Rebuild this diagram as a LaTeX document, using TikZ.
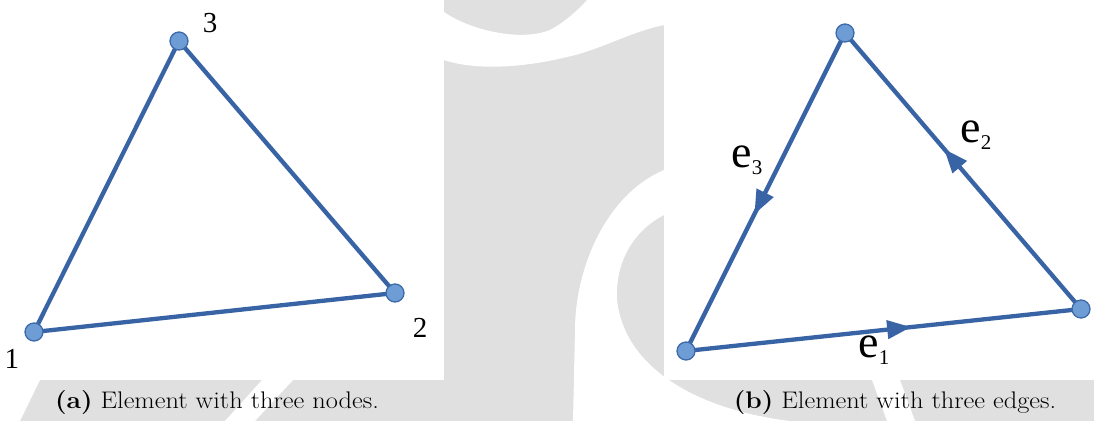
\documentclass[tikz,border=0pt]{standalone}
\usepackage{fontspec}
\newfontfamily\tnr{Liberation Serif}
\usetikzlibrary{arrows.meta,decorations.markings}
\definecolor{wm}{RGB}{224,224,224}
\definecolor{edgeblue}{RGB}{56,100,166}
\definecolor{vfill}{RGB}{109,157,212}
\definecolor{vdraw}{RGB}{62,106,170}
\tikzset{
  edge/.style={draw=edgeblue, line width=4.3pt},
  vtx/.style={circle, fill=vfill, draw=vdraw, line width=1.3pt, minimum size=18pt, inner sep=0pt},
  numlab/.style={font=\tnr\fontsize{29}{29}\selectfont, inner sep=0pt},
  elab/.style={inner sep=0pt},
  captext/.style={font=\fontsize{24}{28}\selectfont, inner sep=0pt},
  midarrow/.style={postaction={decorate}, decoration={markings,
     mark=at position #1 with {\arrow{Triangle[length=24pt,width=18pt]}}}},
}
\newcommand{\elabel}[1]{{\tnr\fontsize{46}{46}\selectfont e\raisebox{-7pt}{\fontsize{21}{21}\selectfont #1}}}
\begin{document}
\begin{tikzpicture}[x=1pt,y=-1pt]
\useasboundingbox (0,0) rectangle (1094,421);
% watermark background
\fill[wm] (0,0) rectangle (1094,421);
\fill[white] (587,0) -- (664,0) -- (664,25) .. controls (630,32) and (600,50) .. (567,57) .. controls (530,66) and (480,72) .. (444,60) -- (444,12) .. controls (470,30) and (520,42) .. (550,30) .. controls (565,22) and (578,10) .. (587,0) -- cycle;
\fill[white] (664,170) .. controls (605,195) and (575,270) .. (575,330) -- (573,421) -- (790,421) .. controls (700,410) and (625,370) .. (617,300) .. controls (615,260) and (635,230) .. (664,215) -- cycle;
\fill[white] (0,380) -- (40,380) -- (20,421) -- (0,421) -- cycle;
\fill[white] (262,380) -- (293,380) -- (255,421) -- (225,421) -- cycle;
\fill[white] (872,380) -- (900,380) -- (915,421) -- (887,421) -- cycle;
% panels
\fill[white] (0,0) rectangle (444,380);
\fill[white] (664,0) rectangle (1094,380);
% panel (a)
\coordinate (p1) at (34,332);
\coordinate (p2) at (395,293);
\coordinate (p3) at (179,41);
\draw[edge] (p1) -- (p2) -- (p3) -- cycle;
\node[vtx] (n1) at (p1) {};
\node[vtx] (n2) at (p2) {};
\node[vtx] (n3) at (p3) {};
\node[numlab] (l1) at (12,359) {1};
\node[numlab] (l2) at (420,328) {2};
\node[numlab] (l3) at (210,23) {3};
% panel (b)
\coordinate (q1) at (686,351);
\coordinate (q2) at (1081,309);
\coordinate (q3) at (845,33);
\draw[edge, midarrow=0.57] (q1) -- (q2);
\draw[edge, midarrow=0.58] (q2) -- (q3);
\draw[edge, midarrow=0.57] (q3) -- (q1);
\node[vtx] (m1) at (q1) {};
\node[vtx] (m2) at (q2) {};
\node[vtx] (m3) at (q3) {};
\node[elab] (e1) at (874,350) {\elabel{1}};
\node[elab] (e2) at (976,135) {\elabel{2}};
\node[elab] (e3) at (747,160) {\elabel{3}};
% captions
\node[captext] (ca) at (217,403) {\scalebox{1.1}[1]{\textbf{(a)} Element with three nodes.}};
\node[captext] (cb) at (895,403) {\scalebox{1.1}[1]{\textbf{(b)} Element with three edges.}};
\end{tikzpicture}
\end{document}
